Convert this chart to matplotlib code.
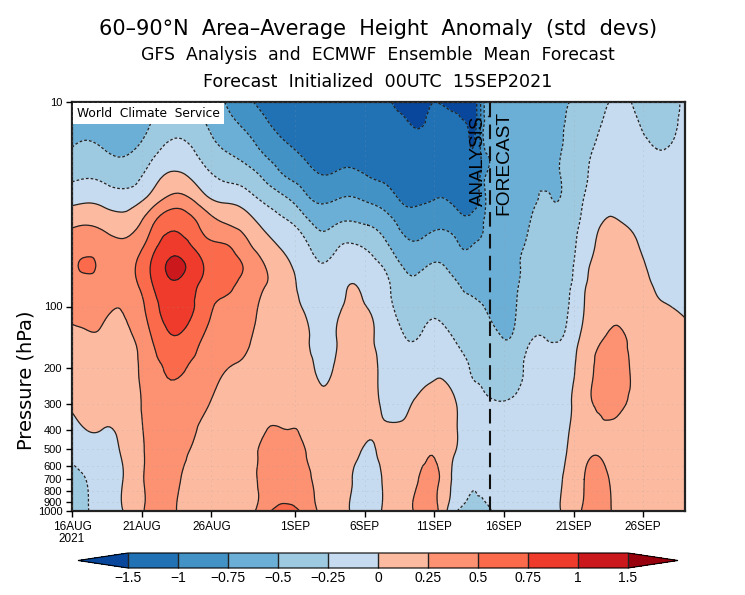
import numpy as np
import matplotlib
matplotlib.use('Agg')
import matplotlib.pyplot as plt
import matplotlib.tri as mtri

# days since 16 Aug 2021
days = [0, 1.0, 2.15, 3.66, 5.59, 7.6, 9.53, 10.97, 12.4, 13.84, 15.48, 16.7, 17.92,
        19.0, 19.93, 21.22, 22.44, 23.87, 24.73, 26.02, 27.6, 28.53, 29.03, 29.32,
        29.75, 30.9, 31.9, 32.83, 34.05, 34.84, 35.7, 36.77, 37.85, 38.92, 40.5, 42.0, 44]
pressure = [10, 13, 17, 23, 30, 40, 50, 63, 78, 100, 145, 200, 300, 400, 530, 700, 1000]

# height anomaly, one line per day, one value per pressure level
anom = np.array([
    [-.68, -.60, -.49, -.30, -.07, .22, .36, .42, .40, .32, .20, .13, .03, -.08, -.20, -.34, -.42],
    [-.70, -.60, -.44, -.27, -.04, .25, .40, .54, .42, .33, .22, .14, .06, .00, -.13, -.25, -.27],
    [-.74, -.63, -.49, -.30, -.07, .20, .37, .44, .40, .30, .22, .13, .05, .00, -.08, -.16, -.18],
    [-.72, -.66, -.55, -.37, -.13, .12, .31, .40, .37, .26, .19, .14, .09, .05, .02, .00, .00],
    [-.56, -.50, -.36, -.15, .08, .44, .60, .74, .70, .60, .46, .38, .34, .32, .31, .30, .30],
    [-.40, -.33, -.18, .05, .35, .70, .88, 1.05, .96, .88, .72, .53, .43, .37, .33, .27, .24],
    [-.58, -.48, -.36, -.17, .08, .42, .58, .73, .68, .60, .46, .37, .28, .20, .16, .13, .12],
    [-.75, -.66, -.51, -.30, -.05, .27, .51, .60, .57, .45, .33, .26, .17, .14, .12, .11, .10],
    [-.92, -.78, -.62, -.37, -.12, .15, .33, .48, .42, .36, .28, .22, .16, .13, .11, .10, .09],
    [-1.10, -.95, -.80, -.55, -.30, -.05, .10, .25, .26, .20, .17, .15, .18, .24, .31, .36, .42],
    [-1.25, -1.12, -.96, -.77, -.48, -.20, -.06, .03, .08, .10, .11, .13, .18, .25, .32, .42, .58],
    [-1.38, -1.25, -1.08, -.88, -.68, -.38, -.20, -.12, -.08, -.03, .05, .11, .17, .21, .26, .33, .44],
    [-1.42, -1.33, -1.18, -.99, -.79, -.55, -.38, -.24, -.18, -.14, -.10, -.05, .04, .09, .13, .17, .20],
    [-1.42, -1.33, -1.16, -.96, -.75, -.49, -.29, -.18, -.13, -.08, .00, .04, .10, .12, .14, .14, .13],
    [-1.42, -1.33, -1.15, -.93, -.72, -.46, -.23, -.12, .00, .06, .10, .12, .12, .10, .07, .03, .00],
    [-1.42, -1.35, -1.18, -1.00, -.78, -.50, -.30, -.18, -.10, -.01, .05, .08, .05, .02, -.02, -.07, -.10],
    [-1.45, -1.38, -1.24, -1.06, -.87, -.60, -.45, -.28, -.20, -.15, -.09, -.06, -.02, .01, .04, .02, .03],
    [-1.65, -1.43, -1.30, -1.14, -1.04, -.82, -.68, -.53, -.43, -.36, -.24, -.15, -.04, .04, .10, .14, .17],
    [-1.72, -1.53, -1.35, -1.17, -1.05, -.84, -.72, -.56, -.46, -.37, -.25, -.13, .03, .09, .15, .23, .28],
    [-1.50, -1.38, -1.26, -1.12, -1.00, -.79, -.63, -.48, -.39, -.31, -.16, -.04, .07, .14, .24, .30, .32],
    [-1.60, -1.43, -1.30, -1.15, -1.05, -.87, -.71, -.60, -.48, -.41, -.27, -.14, .00, .01, -.03, -.12, -.24],
    [-1.70, -1.56, -1.46, -1.24, -1.10, -.96, -.78, -.65, -.55, -.46, -.34, -.25, -.17, -.13, -.14, -.235, -.32],
    [-1.55, -1.50, -1.33, -1.18, -1.05, -.87, -.72, -.63, -.56, -.48, -.37, -.28, -.19, -.15, -.17, -.235, -.32],
    [-1.00, -1.00, -.99, -.98, -.97, -.80, -.70, -.62, -.57, -.49, -.39, -.29, -.20, -.17, -.20, -.235, -.32],
    [-.72, -.72, -.72, -.72, -.72, -.70, -.65, -.60, -.57, -.51, -.40, -.32, -.22, -.18, -.20, -.235, -.29],
    [-.62, -.63, -.63, -.64, -.65, -.66, -.66, -.65, -.62, -.58, -.49, -.37, -.24, -.19, -.15, -.14, -.13],
    [-.60, -.60, -.60, -.60, -.60, -.60, -.58, -.55, -.53, -.50, -.43, -.32, -.21, -.16, -.12, -.11, -.10],
    [-.60, -.60, -.58, -.56, -.54, -.50, -.46, -.42, -.38, -.35, -.27, -.20, -.14, -.10, -.08, -.07, -.06],
    [-.58, -.56, -.54, -.52, -.48, -.44, -.41, -.38, -.34, -.31, -.25, -.19, -.12, -.08, -.05, -.04, -.03],
    [-.54, -.53, -.52, -.51, -.505, -.47, -.43, -.39, -.36, -.32, -.26, -.19, -.11, -.07, -.04, -.02, -.01],
    [-.50, -.47, -.45, -.43, -.41, -.37, -.34, -.31, -.28, -.24, -.17, -.10, -.03, .00, .03, .05, .06],
    [-.40, -.36, -.33, -.29, -.24, -.18, -.13, -.07, -.03, .00, .09, .16, .18, .18, .20, .25, .29],
    [-.30, -.26, -.20, -.14, -.08, -.01, .03, .07, .10, .14, .23, .28, .27, .23, .24, .33, .36],
    [-.23, -.19, -.15, -.10, -.04, .02, .06, .10, .14, .20, .30, .34, .30, .21, .18, .20, .22],
    [-.28, -.23, -.17, -.12, -.07, -.03, .01, .05, .08, .12, .16, .20, .17, .14, .13, .13, .13],
    [-.38, -.32, -.25, -.20, -.16, -.12, -.09, -.05, -.02, .02, .08, .12, .13, .12, .11, .11, .11],
    [-.20, -.18, -.16, -.14, -.12, -.10, -.08, -.05, -.03, -.01, .03, .07, .09, .10, .10, .10, .10],
])

levels = [-1.5, -1, -0.75, -0.5, -0.25, 0, 0.25, 0.5, 0.75, 1, 1.5]
level_labels = ['\u22121.5', '\u22121', '\u22120.75', '\u22120.5', '\u22120.25', '0',
                '0.25', '0.5', '0.75', '1', '1.5']
colors = ['#08479b', '#2171b5', '#4292c6', '#6baed6', '#9ecae1', '#c6dbef',
          '#fcbba1', '#fc9272', '#fb6a4a', '#ef3b2c', '#cb181d', '#99000d']

xtick_days = [0, 5, 10, 16, 21, 26, 31, 36, 41]
xtick_labels = ['16AUG\n2021', '21AUG', '26AUG', '1SEP', '6SEP', '11SEP', '16SEP', '21SEP', '26SEP']
ytick_vals = [10, 100, 200, 300, 400, 500, 600, 700, 800, 900, 1000]
forecast_start = 30

plt.rcParams['font.family'] = ['Liberation Sans', 'DejaVu Sans']

W, H = 745, 595
fig = plt.figure(figsize=(W / 100, H / 100), dpi=100)
ax = fig.add_axes([72 / W, 1 - 511 / H, 613 / W, 409 / H])

# triangulate in plot-like units so the library's refiner draws smooth contours
X, Y = np.meshgrid(days, np.log10(pressure), indexing='ij')
tri = mtri.Triangulation(X.ravel() * 14, Y.ravel() * 205)
refiner = mtri.UniformTriRefiner(tri)
fine, fine_z = refiner.refine_field(anom.ravel(), subdiv=3)
fine_p = mtri.Triangulation(fine.x / 14, 10 ** (fine.y / 205), fine.triangles)

cf = ax.tricontourf(fine_p, fine_z, levels=levels, colors=colors[1:-1], extend='both')
cf.cmap.set_under(colors[0])
cf.cmap.set_over(colors[-1])
cf.changed()
cs = ax.tricontour(fine_p, fine_z, levels=levels, colors='#222222', linewidths=0.9)
cs.set_linestyles([(0, (2.2, 1.6)) if l < 0 else 'solid' for l in levels])

ax.set_yscale('log')
ax.set_ylim(1000, 10)
ax.set_xlim(0, 44)
ax.set_yticks(ytick_vals)
ax.set_yticklabels([str(v) for v in ytick_vals], fontsize=8)
ax.minorticks_off()
ax.set_xticks(xtick_days)
ax.set_xticklabels(xtick_labels, linespacing=1.05, fontsize=8.5)
ax.tick_params(length=4, width=1, pad=3)
ax.grid(True, color='#9a9a9a', linestyle=(0, (1, 5)), linewidth=0.6, alpha=0.5)
ax.set_axisbelow(False)
for s in ax.spines.values():
    s.set_linewidth(1.6)
    s.set_color('#222222')

ax.axvline(forecast_start, color='#111111', lw=1.5, linestyle=(0, (7, 3.5)), zorder=5)
ax.text(29.8, 11.6, 'ANALYSIS', rotation=90, ha='right', va='top', fontsize=13.5, zorder=6)
ax.text(30.4, 11.0, 'FORECAST', rotation=90, ha='left', va='top', fontsize=13.8, zorder=6)

ax.text(0.008, 0.987, 'World  Climate  Service', transform=ax.transAxes, ha='left', va='top',
        fontsize=8.8, zorder=7, family='DejaVu Sans',
        bbox=dict(facecolor='white', edgecolor='none', pad=3))

ax.set_ylabel('Pressure (hPa)', fontsize=14, family='DejaVu Sans', labelpad=2)
ax.yaxis.set_label_coords(-0.06, 0.32)

fig.text(378 / W, 1 - 29 / H, '60\u201390\u00b0N  Area\u2013Average  Height  Anomaly  (std  devs)',
         ha='center', va='center', fontsize=15, family='DejaVu Sans')
fig.text(378 / W, 1 - 55 / H, 'GFS  Analysis  and  ECMWF  Ensemble  Mean  Forecast',
         ha='center', va='center', fontsize=12.4, family='DejaVu Sans')
fig.text(378 / W, 1 - 82 / H, 'Forecast  Initialized  00UTC  15SEP2021',
         ha='center', va='center', fontsize=12.6, family='DejaVu Sans')

cax = fig.add_axes([78 / W, 1 - 568 / H, 600 / W, 15 / H])
cb = fig.colorbar(cf, cax=cax, orientation='horizontal', extendfrac='auto', drawedges=True,
                  ticks=levels)
cb.set_ticklabels(level_labels)
cb.ax.tick_params(length=0, labelsize=10, pad=2)
cb.ax.minorticks_off()
cb.outline.set_linewidth(0.8)
cb.dividers.set_linewidth(1.0)
cb.dividers.set_color('#222222')

fig.savefig('out.png', dpi=100)
